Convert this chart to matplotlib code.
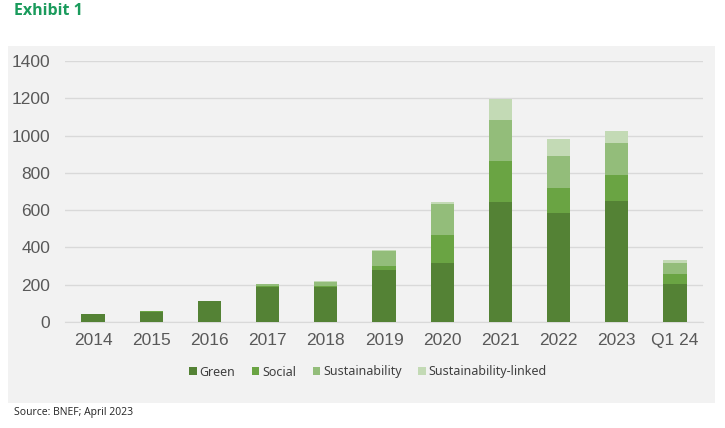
import numpy as np
import matplotlib
matplotlib.use("Agg")
import matplotlib.pyplot as plt
from matplotlib.patches import Rectangle

years = ['2014', '2015', '2016', '2017', '2018', '2019', '2020', '2021', '2022', '2023', 'Q1 24']
green = [42, 55, 111, 187, 187, 281, 317, 643, 585, 650, 206]
social = [2, 3, 3, 5, 8, 18, 150, 222, 135, 138, 54]
sustainability = [0, 3, 0, 13, 20, 81, 165, 220, 172, 173, 59]
linked = [0, 0, 0, 0, 5, 5, 9, 109, 87, 65, 12]

series = ['Green', 'Social', 'Sustainability', 'Sustainability-linked']
colors = ['#548235', '#6AA443', '#93BD7A', '#C3DAB5']

fig = plt.figure(figsize=(7.25, 4.28), dpi=100)
W, H = 725, 428

# grey panel behind the chart
fig.patches.append(Rectangle((8 / W, 1 - 403 / H), (715 - 8) / W, (403 - 46) / H,
                             transform=fig.transFigure, facecolor='#F2F2F2',
                             edgecolor='none', zorder=-5))

ax = fig.add_axes([65 / W, 1 - 322 / H, (703 - 65) / W, (322 - 61) / H])
ax.set_zorder(2)
ax.set_facecolor('none')

x = np.arange(len(years))
bottom = np.zeros(len(years))
for name, vals, c in zip(series, [green, social, sustainability, linked], colors):
    ax.bar(x, vals, width=0.4, bottom=bottom, color=c, label=name, zorder=3)
    bottom += np.array(vals)

ax.set_ylim(0, 1400)
ax.set_xlim(-0.48, 10.48)
ax.set_yticks(range(0, 1401, 200))
ax.yaxis.grid(True, color='#D9D9D9', linewidth=1, zorder=0)
for s in ax.spines.values():
    s.set_visible(False)
ax.spines['bottom'].set_visible(True)
ax.spines['bottom'].set_color('#D9D9D9')
ax.tick_params(axis='both', length=0)
ax.tick_params(axis='y', pad=10.5)
ax.tick_params(axis='x', pad=8)
ax.set_xticks(x)
ax.set_xticklabels(years, fontsize=12.5, color='#595959', family='Liberation Sans')
for lbl in ax.get_yticklabels():
    lbl.set_fontsize(12.5)
    lbl.set_color('#595959')
    lbl.set_family('Liberation Sans')

leg = ax.legend(loc='center', bbox_to_anchor=(368 / W, 1 - 372 / H),
                bbox_transform=fig.transFigure, ncol=4, frameon=False,
                handlelength=0.6, handleheight=0.6, handletextpad=0.25,
                columnspacing=1.3, prop={'family': 'Noto Sans', 'size': 9})
for t in leg.get_texts():
    t.set_color('#404040')

fig.text(14 / W, 1 - 11 / H, 'Exhibit 1', fontsize=11.5, fontweight='bold',
         color='#1A9B5C', family='Open Sans', va='center', ha='left')
fig.text(14 / W, 1 - 412 / H, 'Source: BNEF; April 2023', fontsize=7.5,
         color='#222222', family='Open Sans', va='center', ha='left')

fig.savefig('out.png', dpi=100)
